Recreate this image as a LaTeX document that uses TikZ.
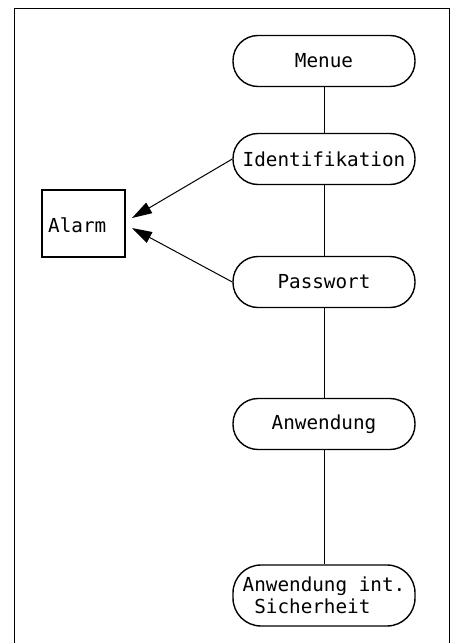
\documentclass[tikz,border=0pt]{standalone}
\usepackage{fontspec}
\setmonofont{DejaVu Sans Mono}
\usetikzlibrary{arrows.meta}
\tikzset{
  pill/.style={draw, line width=1.4pt, minimum width=182pt, minimum height=51pt,
    rounded corners=25pt, inner sep=0pt, font=\ttfamily\fontsize{19.3}{22}\selectfont},
  boxnode/.style={draw, line width=1.4pt, minimum width=83pt, minimum height=67pt,
    inner sep=0pt, font=\ttfamily\fontsize{19.3}{22}\selectfont},
  link/.style={line width=1pt},
  alarmarrow/.style={line width=1pt, -{Triangle[length=20pt,width=12pt]}},
}
\begin{document}
\begin{tikzpicture}[x=1pt,y=-1pt]
\useasboundingbox (0,0) rectangle (454,643);
\draw[line width=1pt] (14,643) -- (14,8) -- (449,8) -- (449,643);
\node[pill] (menue) at (324,61) {Menue};
\node[pill] (ident) at (324,159) {Identifikation};
\node[pill] (pass) at (324,282) {Passwort};
\node[pill] (anw) at (324,424) {Anwendung};
\node[pill, minimum height=61pt, rounded corners=28pt, align=left] (anwint) at (324,595.5) {Anwendung int.\\\phantom{A}Sicherheit};
\node[boxnode] (alarm) at (83.5,223.5) {};
\node[anchor=west, inner sep=0pt, font=\ttfamily\fontsize{19.3}{22}\selectfont] (alarmtxt) at (48,225) {Alarm};
\coordinate (t1) at (132,218);
\coordinate (t2) at (132,228);
\draw[link] (menue) -- (ident);
\draw[link] (ident) -- (pass);
\draw[link] (pass) -- (anw);
\draw[link] (anw) -- (anwint);
\draw[alarmarrow] (ident.west) -- (t1);
\draw[alarmarrow] (pass.west) -- (t2);
\end{tikzpicture}
\end{document}
